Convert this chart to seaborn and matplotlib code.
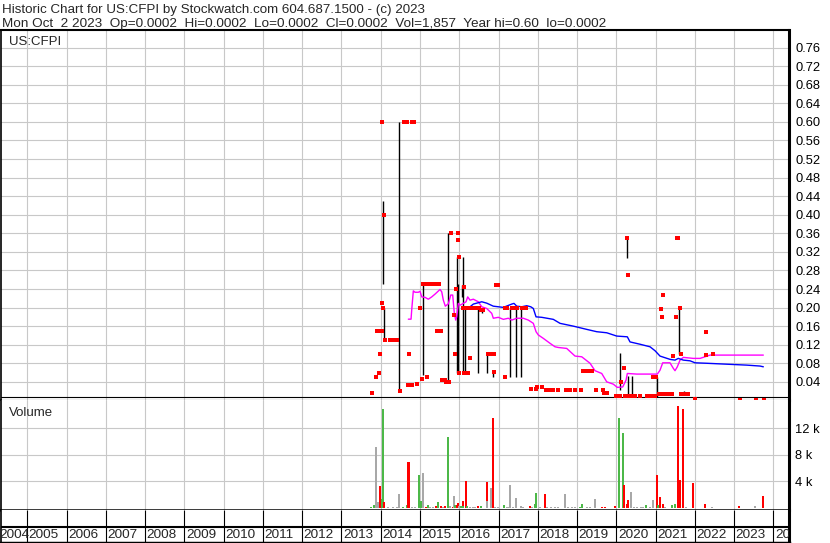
import matplotlib
matplotlib.use("Agg")
import matplotlib.pyplot as plt
import seaborn as sns

# ------------------------------------------------------------------ data
header_line1 = "Historic Chart for US:CFPI by Stockwatch.com 604.687.1500 - (c) 2023"
header_line2 = ("Mon Oct  2 2023  Op=0.0002  Hi=0.0002  Lo=0.0002  Cl=0.0002  "
                "Vol=1,857  Year hi=0.60  lo=0.0002")
symbol_label = "US:CFPI"
volume_label = "Volume"

year_ticks = list(range(2004, 2025))
year_labels = [str(y) for y in year_ticks]
price_ticks = [0.04, 0.08, 0.12, 0.16, 0.20, 0.24, 0.28, 0.32, 0.36, 0.40,
               0.44, 0.48, 0.52, 0.56, 0.60, 0.64, 0.68, 0.72, 0.76]
vol_ticks = [4000, 8000, 12000]
vol_tick_labels = ["4 k", "8 k", "12 k"]

# closing prices (red marks)
close_dates = [
    2013.778, 2013.878, 2013.906, 2013.931, 2013.944, 2013.969,
    2014.025, 2014.025, 2014.025, 2014.051, 2014.084,
    2014.110, 2014.237, 2014.280, 2014.357, 2014.407, 2014.491,
    2014.586, 2014.626, 2014.670, 2014.789, 2014.815, 2014.848,
    2014.695, 2014.713, 2014.746, 2014.805, 2014.917,
    2015.001, 2015.059, 2015.070, 2015.128, 2015.179, 2015.222, 2015.299, 2015.339, 2015.390, 2015.485,
    2015.426, 2015.459, 2015.543, 2015.561, 2015.637, 2015.670, 2015.739,
    2015.790, 2015.874, 2015.882, 2015.917, 2015.961, 2015.968, 2015.986, 2015.994,
    2016.088, 2016.109, 2016.121, 2016.190, 2016.215, 2016.249, 2016.274, 2016.299, 2016.384, 2016.445, 2016.511, 2016.546, 2016.597,
    2016.732, 2016.783, 2016.872, 2016.885, 2016.936, 2016.995,
    2017.165, 2017.173, 2017.209, 2017.336, 2017.420, 2017.463, 2017.591, 2017.631, 2017.700,
    2017.827, 2017.955, 2017.980, 2018.100, 2018.209, 2018.286, 2018.395, 2018.507, 2018.719, 2018.782, 2018.821, 2018.948, 2019.101,
    2019.144, 2019.246, 2019.287, 2019.373, 2019.483, 2019.668, 2019.694, 2019.755,
    2019.984, 2020.025, 2020.094, 2020.119, 2020.196, 2020.221, 2020.280, 2020.297, 2020.306, 2020.392, 2020.476, 2020.603,
    2020.774, 2020.832, 2020.883, 2020.942, 2020.947, 2020.985, 2021.010,
    2021.094, 2021.130, 2021.156, 2021.156, 2021.181, 2021.240, 2021.324, 2021.410, 2021.436,
    2021.520, 2021.538, 2021.571, 2021.622, 2021.639, 2021.647, 2021.749, 2021.833, 2021.991,
    2022.284, 2022.284, 2022.454, 2023.149, 2023.549, 2023.761]
close_prices = [
    0.015, 0.051, 0.15, 0.15, 0.06, 0.10,
    0.15, 0.21, 0.60, 0.20, 0.40,
    0.13, 0.13, 0.13, 0.13, 0.13, 0.02,
    0.60, 0.60, 0.60, 0.60, 0.60, 0.60,
    0.033, 0.10, 0.033, 0.033, 0.035,
    0.20, 0.046, 0.25, 0.25, 0.051, 0.25, 0.25, 0.25, 0.25, 0.25,
    0.15, 0.15, 0.15, 0.044, 0.044, 0.04, 0.04,
    0.36, 0.185, 0.10, 0.24, 0.36, 0.345, 0.06, 0.31,
    0.20, 0.245, 0.06, 0.20, 0.06, 0.20, 0.092, 0.20, 0.20, 0.20, 0.20, 0.195, 0.195,
    0.10, 0.10, 0.10, 0.062, 0.248, 0.248,
    0.051, 0.20, 0.20, 0.20, 0.20, 0.20, 0.20, 0.20, 0.20,
    0.024, 0.024, 0.028, 0.028, 0.022, 0.022, 0.022, 0.022, 0.022, 0.022, 0.022, 0.022, 0.022,
    0.064, 0.064, 0.064, 0.064, 0.022, 0.022, 0.015, 0.015,
    0.01, 0.01, 0.01, 0.04, 0.07, 0.01, 0.35, 0.27, 0.01, 0.01, 0.01, 0.01,
    0.01, 0.01, 0.01, 0.051, 0.01, 0.01, 0.051,
    0.0136, 0.197, 0.0136, 0.18, 0.227, 0.0136, 0.0136, 0.0136, 0.096,
    0.18, 0.35, 0.35, 0.20, 0.10, 0.0136, 0.0136, 0.0136, 0.002,
    0.148, 0.098, 0.099, 0.001, 0.001, 0.001]

# high-low ranges (black bars)
bar_dates = [2014.066, 2014.089, 2014.474, 2015.085, 2015.720, 2015.950, 2015.976,
             2016.078, 2016.096, 2016.147, 2016.485, 2016.587, 2016.715, 2016.867,
             2017.293, 2017.453, 2017.580, 2020.101, 2020.280, 2020.305, 2020.387,
             2021.043, 2021.604, 2021.723]
bar_lows = [0.25, 0.13, 0.02, 0.055, 0.04, 0.06, 0.06,
            0.223, 0.06, 0.06, 0.06, 0.1875, 0.06, 0.051,
            0.051, 0.051, 0.051, 0.022, 0.307, 0.009, 0.009,
            0.008, 0.101, 0.011]
bar_highs = [0.43, 0.20, 0.60, 0.25, 0.36, 0.31, 0.25,
             0.248, 0.31, 0.20, 0.20, 0.20, 0.10, 0.062,
             0.20, 0.20, 0.20, 0.1026, 0.3476, 0.052, 0.052,
             0.051, 0.20, 0.02]

# short moving average (magenta)
ma_short_dates = [2014.703, 2014.772, 2014.789, 2014.830, 2014.873, 2014.957, 2015.001,
                  2015.044, 2015.128, 2015.212, 2015.299, 2015.383, 2015.510, 2015.553,
                  2015.594, 2015.645, 2015.721, 2015.783, 2015.833, 2015.874, 2015.910,
                  2015.935, 2015.976, 2016.019, 2016.103, 2016.172, 2016.215, 2016.274,
                  2016.358, 2016.485, 2016.572, 2016.699, 2016.827, 2016.867, 2016.995,
                  2017.122, 2017.249, 2017.336, 2017.463, 2017.631, 2017.759, 2017.886,
                  2017.955, 2018.013, 2018.141, 2018.311, 2018.438, 2018.523, 2018.736,
                  2018.948, 2019.118, 2019.330, 2019.457, 2019.628, 2019.755, 2019.923,
                  2020.025, 2020.162, 2020.247, 2020.280, 2020.519, 2020.985, 2021.044,
                  2021.112, 2021.181, 2021.367, 2021.451, 2021.494, 2021.553, 2021.622,
                  2021.706, 2021.960, 2022.131, 2022.258, 2022.386, 2023.743]
ma_short = [0.175, 0.175, 0.195, 0.236, 0.233, 0.233, 0.235,
            0.223, 0.222, 0.218, 0.223, 0.229, 0.239, 0.234,
            0.216, 0.203, 0.208, 0.227, 0.227, 0.1875, 0.173,
            0.180, 0.209, 0.205, 0.209, 0.2125, 0.223, 0.216,
            0.218, 0.2125, 0.2017, 0.198, 0.1875, 0.177, 0.179,
            0.1746, 0.177, 0.173, 0.177, 0.177, 0.173, 0.166,
            0.148, 0.141, 0.1336, 0.123, 0.1155, 0.114, 0.112,
            0.0955, 0.094, 0.080, 0.064, 0.058, 0.040, 0.035,
            0.028, 0.029, 0.0437, 0.058, 0.0567, 0.0567, 0.0567,
            0.065, 0.081, 0.081, 0.069, 0.064, 0.0724, 0.0868,
            0.0927, 0.0905, 0.0905, 0.094, 0.0976, 0.0976]

# long moving average (blue)
ma_long_dates = [2016.256, 2016.358, 2016.572, 2016.699, 2016.867, 2017.122, 2017.336,
                 2017.394, 2017.463, 2017.591, 2017.718, 2017.820, 2017.886, 2017.955,
                 2018.100, 2018.395, 2018.566, 2018.904, 2019.246, 2019.500, 2019.755,
                 2020.010, 2020.280, 2020.348, 2020.603, 2020.858, 2020.985, 2021.112,
                 2021.367, 2021.494, 2021.578, 2021.706, 2021.876, 2022.004, 2022.302,
                 2022.811, 2023.320, 2023.659, 2023.743]
ma_long = [0.2004, 0.2075, 0.2125, 0.2095, 0.203, 0.2004, 0.2075,
           0.209, 0.203, 0.2017, 0.204, 0.2017, 0.198, 0.180,
           0.179, 0.1746, 0.166, 0.160, 0.153, 0.148, 0.1457,
           0.1386, 0.137, 0.126, 0.121, 0.1155, 0.107, 0.0955,
           0.0884, 0.0868, 0.0905, 0.0868, 0.0853, 0.081, 0.080,
           0.078, 0.076, 0.074, 0.0724]

# daily volume (shares) and direction of the day
vol_dates = [
    2013.745, 2013.830, 2013.888, 2013.940, 2013.982,
    2014.025, 2014.050, 2014.084, 2014.190, 2014.320, 2014.410, 2014.466, 2014.560,
    2014.662, 2014.703, 2014.728, 2014.790, 2014.873, 2014.968,
    2015.019, 2015.034, 2015.070, 2015.154, 2015.197, 2015.255, 2015.340, 2015.408,
    2015.450, 2015.535, 2015.594, 2015.637, 2015.706, 2015.765, 2015.833, 2015.867,
    2015.900, 2015.935, 2015.968,
    2016.000, 2016.045, 2016.088, 2016.100, 2016.172, 2016.205, 2016.274, 2016.358,
    2016.400, 2016.470, 2016.554, 2016.700, 2016.715, 2016.810, 2016.852, 2016.867,
    2016.910, 2016.995,
    2017.140, 2017.210, 2017.250, 2017.293, 2017.377, 2017.445, 2017.565, 2017.630,
    2017.800, 2017.845, 2017.930, 2017.955,
    2018.057, 2018.184, 2018.243, 2018.337, 2018.440, 2018.523, 2018.685, 2018.777,
    2018.870, 2018.950,
    2019.075, 2019.118, 2019.246, 2019.330, 2019.457, 2019.628, 2019.712, 2019.966,
    2020.076, 2020.162, 2020.196, 2020.264, 2020.290, 2020.366, 2020.450, 2020.534,
    2020.620, 2020.687, 2020.756, 2020.858, 2020.926,
    2021.028, 2021.069, 2021.112, 2021.180, 2021.240, 2021.410, 2021.494, 2021.578,
    2021.622, 2021.706, 2021.775, 2021.945,
    2022.258, 2022.430, 2023.124, 2023.530, 2023.743]
vol_values = [
    100, 450, 9200, 900, 3300,
    1300, 14900, 950, 200, 200, 200, 2100, 150,
    400, 7000, 7000, 200, 200, 5000,
    400, 1050, 5300, 150, 450, 200, 200, 250,
    950, 250, 150, 250, 10700, 300, 200, 1800,
    400, 400, 700,
    250, 250, 1100, 350, 4100, 250, 200, 200,
    200, 250, 350, 3960, 1100, 3060, 450, 13600,
    150, 150,
    450, 150, 150, 3460, 150, 1550, 250, 150,
    350, 150, 600, 2260,
    150, 2100, 150, 150, 150, 150, 2100, 150,
    150, 150,
    100, 600, 150, 150, 1360, 200, 200, 350,
    13600, 11300, 3460, 600, 1200, 2450, 150, 150,
    150, 150, 450, 200, 1200,
    5000, 450, 1700, 600, 200, 450, 600, 15400,
    4200, 14900, 150, 3700,
    600, 150, 350, 300, 1800]
vol_dir = [
    "up", "up", "flat", "flat", "down",
    "up", "up", "down", "flat", "flat", "flat", "flat", "up",
    "up", "down", "down", "flat", "flat", "up",
    "down", "up", "flat", "down", "up", "flat", "flat", "down",
    "up", "down", "flat", "down", "up", "flat", "down", "flat",
    "up", "down", "down",
    "flat", "up", "down", "up", "down", "up", "flat", "flat",
    "flat", "down", "up", "down", "flat", "flat", "up", "down",
    "flat", "flat",
    "up", "flat", "flat", "flat", "flat", "flat", "flat", "flat",
    "down", "flat", "up", "up",
    "flat", "down", "flat", "flat", "flat", "flat", "flat", "flat",
    "flat", "flat",
    "up", "up", "flat", "flat", "flat", "down", "down", "down",
    "up", "up", "down", "down", "down", "flat", "flat", "flat",
    "flat", "flat", "up", "flat", "flat",
    "down", "up", "down", "down", "flat", "up", "up", "down",
    "down", "down", "flat", "down",
    "down", "flat", "down", "flat", "down"]

# ------------------------------------------------------------------ style
sns.set_style("white")
plt.rcParams["font.family"] = ["Liberation Sans", "DejaVu Sans"]
plt.rcParams["font.size"] = 9

GRID = "#c8c8c8"
dir_colors = {"up": "#4cb848", "down": "#ff0000", "flat": "#a8a8a8"}

W, H = 830, 543
fig = plt.figure(figsize=(W / 100, H / 100), dpi=100)
fig.patch.set_facecolor("white")


def rect(x0, y0, x1, y1):
    """pixel box (top-left origin) -> figure fraction"""
    return [x0 / W, 1 - y1 / H, (x1 - x0) / W, (y1 - y0) / H]


XL, XR = 1.0, 788.5
XMIN, XMAX = 2004.33, 2024.384
Y_TOP, Y_PV, Y_VB, Y_BOT = 30.0, 400.4, 509.5, 543.0

ax_p = fig.add_axes(rect(XL, Y_TOP, XR, Y_PV))
ax_v = fig.add_axes(rect(XL, Y_PV, XR, Y_VB))
ax_b = fig.add_axes(rect(XL, Y_VB, XR, Y_BOT))

grid_years = [y for y in year_ticks if XMIN < y < XMAX]

for ax in (ax_p, ax_v, ax_b):
    ax.set_xlim(XMIN, XMAX)
    ax.set_facecolor("white")
    for s in ax.spines.values():
        s.set_color("black")
    ax.spines["left"].set_linewidth(1.2)
    ax.spines["right"].set_linewidth(2.2)

# ---------------- price panel
ax_p.set_ylim(0, 0.798)
ax_p.set_xticks(grid_years)
ax_p.set_xticklabels([])
ax_p.set_yticks(price_ticks)
ax_p.set_yticklabels([f"{v:.2f}" for v in price_ticks])
ax_p.yaxis.tick_right()
ax_p.tick_params(axis="both", length=0)
ax_p.tick_params(axis="y", pad=5, labelsize=9.3, labelcolor="black")
ax_p.grid(True, color=GRID, linewidth=0.8)
ax_p.set_axisbelow(True)
ax_p.spines["top"].set_linewidth(1.5)
ax_p.spines["bottom"].set_linewidth(0.8)
ax_p.axhline(0.0069, color="black", linewidth=0.8, zorder=2)

ax_p.vlines(bar_dates, bar_lows, bar_highs, color="black", linewidth=1.0, zorder=3)
sns.lineplot(x=ma_short_dates, y=ma_short, ax=ax_p, color="#ff00ff",
             linewidth=1.0, estimator=None, sort=False, zorder=4)
sns.lineplot(x=ma_long_dates, y=ma_long, ax=ax_p, color="#0000ff",
             linewidth=1.0, estimator=None, sort=False, zorder=4)
sns.scatterplot(x=close_dates, y=close_prices, ax=ax_p, marker="s", s=5,
                color="#ff0000", linewidth=0, zorder=5, clip_on=False)
ax_p.set_xlim(XMIN, XMAX)
ax_p.set_ylim(0, 0.798)
ax_p.text(8 / (XR - XL), 1 - (42 - Y_TOP) / (Y_PV - Y_TOP), symbol_label,
          transform=ax_p.transAxes, ha="left", va="center", fontsize=9.5)

# ---------------- volume panel
ax_v.set_ylim(-226, 16200)
ax_v.bar(vol_dates, vol_values, width=0.05,
         color=[dir_colors[d] for d in vol_dir], linewidth=0, zorder=3)
ax_v.set_xticks(grid_years)
ax_v.set_xticklabels([])
ax_v.set_yticks(vol_ticks)
ax_v.set_yticklabels(vol_tick_labels)
ax_v.yaxis.tick_right()
ax_v.tick_params(axis="both", length=0)
ax_v.tick_params(axis="y", pad=5, labelsize=9.3, labelcolor="black")
ax_v.grid(True, color=GRID, linewidth=0.8)
ax_v.set_axisbelow(True)
ax_v.spines["top"].set_visible(False)
ax_v.spines["bottom"].set_linewidth(1.8)
ax_v.set_xlim(XMIN, XMAX)
ax_v.text(8 / (XR - XL), 1 - (413 - Y_PV) / (Y_VB - Y_PV), volume_label,
          transform=ax_v.transAxes, ha="left", va="center", fontsize=9.5)

# ---------------- date band
ax_b.set_ylim(0, 1)
ax_b.set_xticks([])
ax_b.set_yticks([])
ax_b.spines["top"].set_visible(False)
ax_b.spines["bottom"].set_linewidth(2.5)
sep = (Y_BOT - 527) / (Y_BOT - Y_VB)
ax_b.axhline(sep, color="black", linewidth=1.5)
ax_b.vlines(grid_years, 0, 1, color="black", linewidth=0.8)
px_year = (XMAX - XMIN) / (XR - XL)
for yr, lab in zip(year_ticks, year_labels):
    xpos = max(yr, XMIN - 3 * px_year) + 1.5 * px_year
    ax_b.text(xpos, sep / 2, lab, ha="left", va="center", fontsize=9.7,
              clip_on=True)

# ---------------- header
fig.text(2 / W, 1 - 12.7 / H, header_line1, ha="left", va="baseline", fontsize=9.6)
fig.text(2 / W, 1 - 26.7 / H, header_line2, ha="left", va="baseline", fontsize=9.7)

fig.savefig("out.png", dpi=100, facecolor="white")
